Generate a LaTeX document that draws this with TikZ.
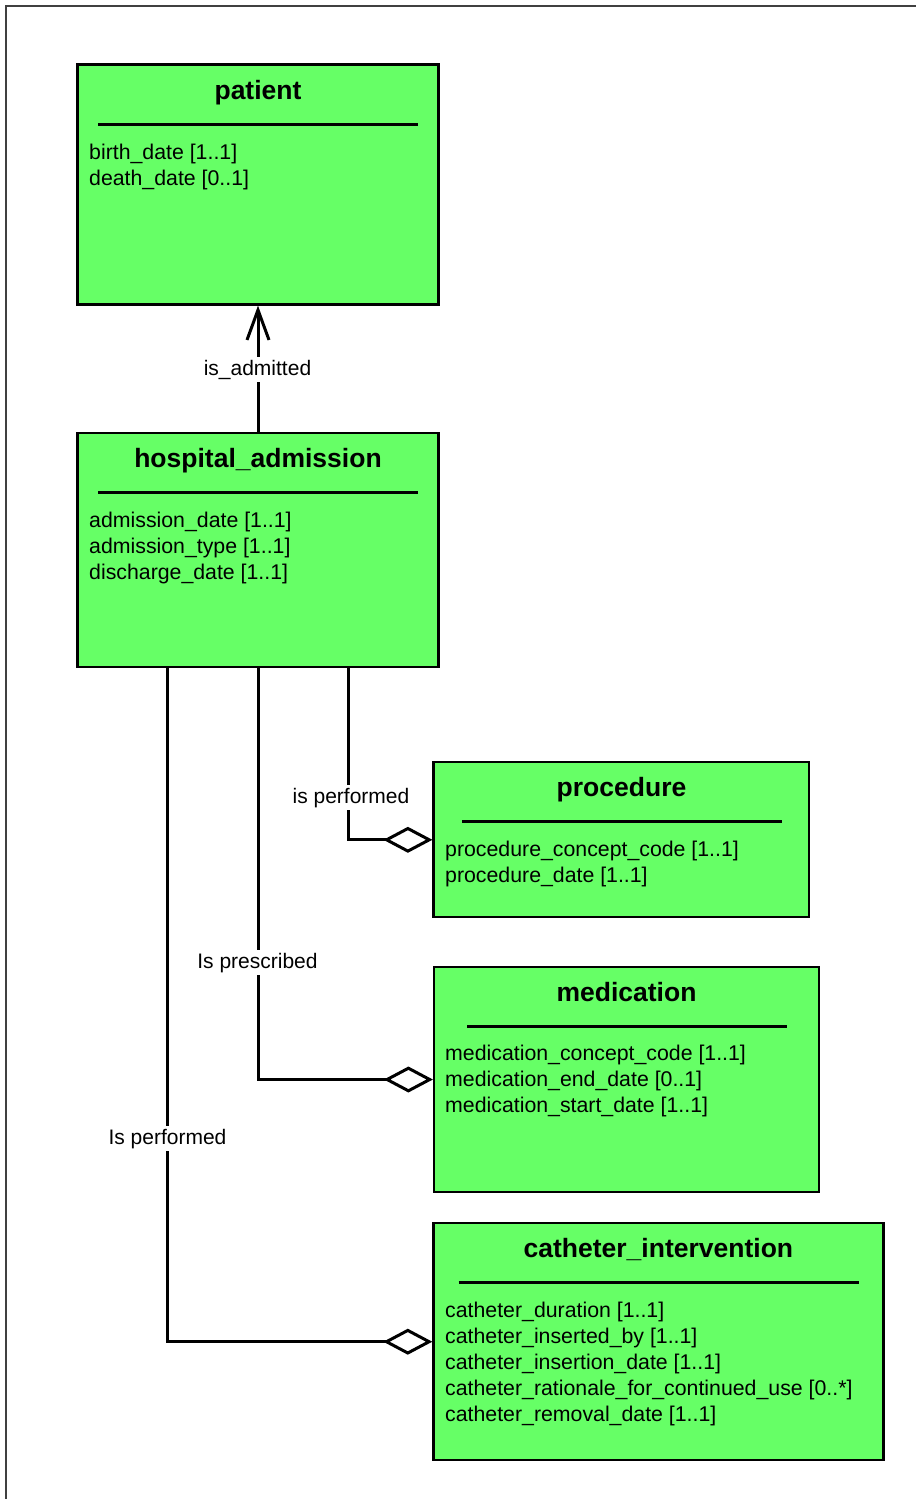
\documentclass[tikz,border=0pt]{standalone}
\usepackage{fontspec}
\setmainfont{Liberation Sans}
\usetikzlibrary{arrows.meta}
\definecolor{boxgreen}{RGB}{102,255,102}
\definecolor{framegray}{RGB}{64,64,64}
\begin{document}
\begin{tikzpicture}[x=1pt,y=-1pt,
  classbox/.style={draw=black, line width=2.2pt, fill=boxgreen, inner sep=0pt},
  ctitle/.style={anchor=base, inner sep=0pt, font=\fontsize{26.5}{30}\selectfont\bfseries},
  attr/.style={anchor=base west, inner sep=0pt, font=\fontsize{21.3}{26}\selectfont},
  sepline/.style={line width=3pt},
  assoc/.style={line width=3pt},
  aggtip/.style={-{Diamond[length=49pt,width=26pt,fill=white]}},
  navtip/.style={-{Straight Barb[length=30pt,width=22pt]}},
  lbl/.style={anchor=base, fill=white, inner sep=3pt, font=\fontsize{21}{25}\selectfont}
]
\useasboundingbox (0,0) rectangle (916,1499);
\fill[white] (0,0) rectangle (916,1499);
\draw[framegray, line width=1.6pt] (6,1499) -- (6,6) -- (916,6);

% patient
\node[classbox, minimum width=361pt, minimum height=240pt] (patient) at (258,184.5) {};
\node[ctitle] (patientT) at (258,99) {patient};
\draw[sepline] (98,124) -- (418,124);
\node[attr] (pa1) at (89,159) {birth\_date [1..1]};
\node[attr] (pa2) at (89,185) {death\_date [0..1]};

% hospital_admission
\node[classbox, minimum width=361pt, minimum height=234pt] (hosp) at (258,550.3) {};
\node[ctitle] (hospT) at (258,467) {hospital\_admission};
\draw[sepline] (98,492.3) -- (418,492.3);
\node[attr] (ha1) at (89,527) {admission\_date [1..1]};
\node[attr] (ha2) at (89,553) {admission\_type [1..1]};
\node[attr] (ha3) at (89,579) {discharge\_date [1..1]};

% procedure
\node[classbox, minimum width=375.5pt, minimum height=155pt] (proc) at (621.25,839.8) {};
\node[ctitle] (procT) at (621.5,796) {procedure};
\draw[sepline] (462,821.3) -- (782,821.3);
\node[attr] (pr1) at (445,856.5) {procedure\_concept\_code [1..1]};
\node[attr] (pr2) at (445,882.5) {procedure\_date [1..1]};

% medication
\node[classbox, minimum width=385pt, minimum height=225pt] (med) at (626.5,1079.5) {};
\node[ctitle] (medT) at (626.5,1001) {medication};
\draw[sepline] (467,1026.3) -- (787,1026.3);
\node[attr] (me1) at (445,1060.5) {medication\_concept\_code [1..1]};
\node[attr] (me2) at (445,1086.5) {medication\_end\_date [0..1]};
\node[attr] (me3) at (445,1112.5) {medication\_start\_date [1..1]};

% catheter_intervention
\node[classbox, minimum width=450pt, minimum height=236.7pt] (cath) at (658.4,1341.7) {};
\node[ctitle] (cathT) at (658.4,1257.5) {catheter\_intervention};
\draw[sepline] (458.5,1282.3) -- (859,1282.3);
\node[attr] (ca1) at (445,1317.3) {catheter\_duration [1..1]};
\node[attr] (ca2) at (445,1343.3) {catheter\_inserted\_by [1..1]};
\node[attr] (ca3) at (445,1369.3) {catheter\_insertion\_date [1..1]};
\node[attr] (ca4) at (445,1395.3) {catheter\_rationale\_for\_continued\_use [0..*]};
\node[attr] (ca5) at (445,1421.3) {catheter\_removal\_date [1..1]};

% connectors
\draw[assoc, navtip] (hosp.north) -- (patient.south);
\draw[assoc, aggtip] ([xshift=90pt]hosp.south) |- (proc.west);
\draw[assoc, aggtip] (hosp.south) |- (med.west);
\draw[assoc, aggtip] ([xshift=-91pt]hosp.south) |- (cath.west);

% labels
\node[lbl] (l1) at (257.5,375) {is\_admitted};
\node[lbl] (l2) at (351,803) {is performed};
\node[lbl] (l3) at (257.5,968) {Is prescribed};
\node[lbl] (l4) at (167.5,1144) {Is performed};
\end{tikzpicture}
\end{document}
